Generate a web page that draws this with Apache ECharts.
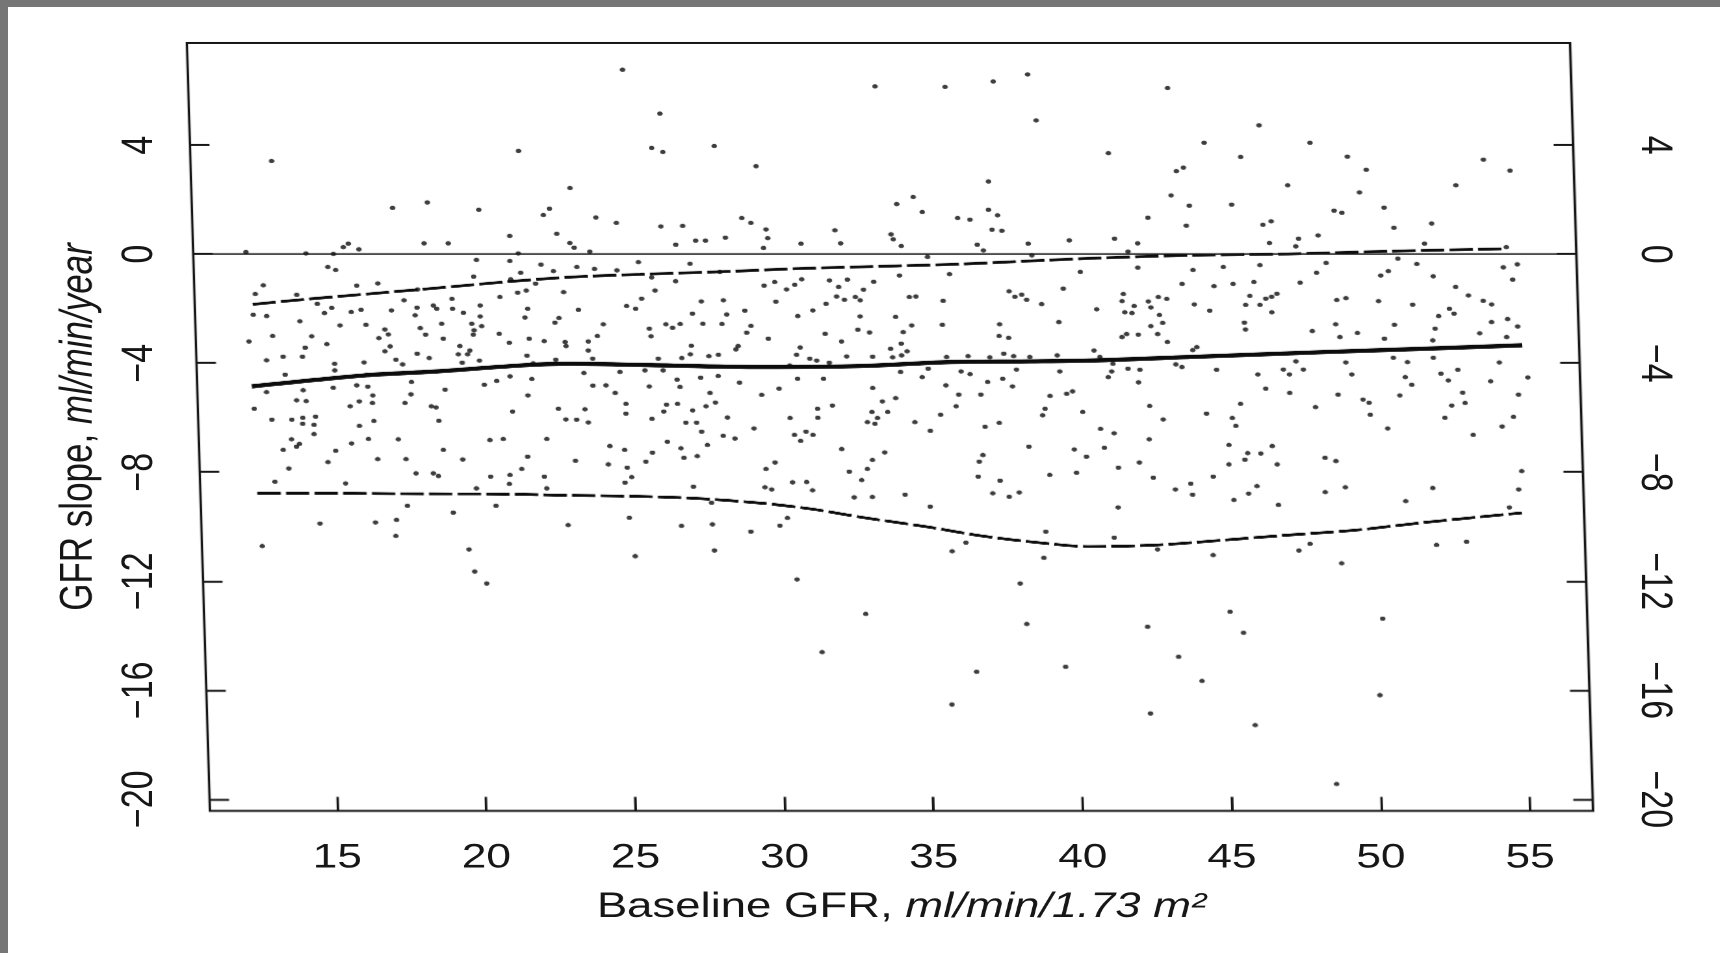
<!DOCTYPE html>
<html>
<head>
<meta charset="utf-8">
<title>GFR slope vs baseline GFR</title>
<script src="https://cdn.jsdelivr.net/npm/echarts@6.0.0/dist/echarts.min.js"></script>
<style>
  html, body { margin: 0; padding: 0; background: #fff; width: 1720px; height: 953px; overflow: hidden; }
  .layer { position: absolute; left: 0; top: 0; width: 1323px; height: 953px; transform-origin: 0 0; }
  /* the plot frame leans slightly, the tick labels stay upright */
  #plot { transform: matrix(1.3, 0, 0.03, 1, -24.33, 0); }
  #labels { transform: scale(1.3, 1); }
  .edge { position: absolute; background: #767676; }
</style>
</head>
<body>
<div id="plot" class="layer"></div>
<div id="labels" class="layer"></div>
<div class="edge" style="left:0;top:0;width:1720px;height:7px"></div>
<div class="edge" style="left:0;top:0;width:8px;height:953px"></div>
<script>
// Axis ranges and tick values
const X_MIN = 10.73, X_MAX = 57.11;
const Y_MIN = -20.43, Y_MAX = 7.75;
const xTicks = [15, 20, 25, 30, 35, 40, 45, 50, 55];
const yTicks = [-20, -16, -12, -8, -4, 0, 4];

// Individual patients: [baseline GFR, GFR slope]
const patientPoints = [
  [25.31,6.77],[13.45,3.42],[21.74,3.79],[23.43,2.43],[18.63,1.90],[17.46,1.70],[20.35,1.63],[22.72,1.67],[22.51,1.44],[24.27,1.35],[24.95,1.15],[22.94,0.75],[21.36,0.67],[15.77,0.26],[15.94,0.39],[16.29,0.18],[18.48,0.40],[19.29,0.40],[23.37,0.41],[23.51,0.24],[24.03,0.10],[12.50,0.08],[14.51,0.03],[15.43,0.01],[21.63,0.03],
  [15.23,-0.47],[15.49,-0.58],[20.22,-0.21],[21.34,-0.25],[22.38,-0.38],[22.79,-0.62],[23.58,-0.47],[24.17,-0.54],[24.92,-0.59],[21.69,-0.68],[20.11,-0.82],[21.35,-0.92],[13.05,-1.14],[16.18,-1.15],[16.89,-1.07],[12.77,-1.46],[14.16,-1.49],[22.18,-1.08],[21.86,-1.33],[21.57,-1.41],[23.11,-1.39],[20.97,-1.57],[18.22,-1.29],[17.75,-1.69],[14.84,-1.82],[15.32,-1.97],[15.07,-2.16],[16.30,-2.04],[15.97,-2.12],[17.32,-2.06],[18.18,-1.96],[18.11,-2.24],[18.73,-1.88],[18.84,-2.00],[19.36,-1.64],[19.37,-2.00],[19.73,-2.15],[20.30,-1.88],[20.29,-2.28],[12.68,-2.22],[13.13,-2.27],[21.89,-2.00],[21.79,-2.32],[23.59,-2.04],[25.21,-1.90],[25.51,-2.00],
  [14.24,-2.46],[15.58,-2.61],[16.45,-2.59],[18.99,-2.55],[20.00,-2.55],[20.33,-2.64],[22.93,-2.34],[22.79,-2.51],[24.41,-2.57],[17.08,-2.76],[17.19,-2.94],[18.27,-2.71],[18.44,-2.95],[20.07,-2.79],[20.04,-2.95],[20.91,-2.92],[12.51,-3.20],[13.31,-3.00],[14.62,-3.01],[15.12,-3.30],[14.39,-3.43],[16.87,-3.08],[19.03,-3.10],[21.24,-3.25],[21.91,-3.10],[22.41,-3.19],[23.11,-3.22],[23.14,-3.37],[23.89,-3.20],[24.20,-3.00],[17.24,-3.38],[17.06,-3.56],[19.58,-3.37],[19.52,-3.67],[19.91,-3.53],[19.83,-3.67],[18.14,-3.65],[13.08,-3.89],[13.64,-3.76],[14.29,-3.76],[15.36,-4.02],[16.35,-3.97],[17.42,-3.87],[17.64,-4.04],[18.54,-3.81],[20.22,-3.90],[19.64,-3.98],[21.82,-3.72],[22.78,-3.87],[23.88,-3.53],[24.02,-3.83],[13.69,-4.42],[15.36,-4.26],[16.43,-4.42],[22.02,-4.00],[23.71,-4.36],[24.92,-4.32],
  [13.05,-5.06],[14.28,-4.99],[14.05,-5.36],[14.37,-5.39],[15.29,-4.90],[16.08,-4.81],[16.45,-4.86],[16.61,-5.18],[16.59,-5.46],[16.15,-5.40],[15.84,-5.58],[17.92,-4.69],[17.89,-5.14],[17.68,-5.46],[19.04,-4.97],[18.56,-5.58],[18.72,-5.62],[20.36,-4.79],[20.78,-4.65],[21.23,-4.48],[21.96,-4.58],[21.81,-5.18],[24.00,-4.82],[24.44,-4.81],[24.74,-5.09],[25.09,-5.49],[12.62,-5.67],[13.20,-6.07],[13.87,-6.07],[14.24,-6.00],[14.23,-6.22],[14.67,-5.96],[14.61,-6.26],[18.80,-6.11],[21.28,-5.77],[22.82,-5.67],[23.71,-5.69],[23.06,-6.06],[23.42,-6.07],[23.81,-6.17],[25.08,-5.85],[16.62,-6.12],
  [26.52,5.16],[26.21,3.90],[26.58,3.75],[28.31,3.97],[29.69,3.23],[33.76,6.16],[36.11,6.14],[37.73,6.34],[38.89,6.60],[39.13,4.91],[37.47,2.67],[34.93,2.10],[34.37,1.84],[35.22,1.55],[37.44,1.63],[37.74,1.43],[36.40,1.33],[36.81,1.27],[37.54,0.90],[37.87,0.86],[26.44,1.02],[27.17,1.04],[29.16,1.33],[29.46,1.15],[29.96,0.91],[30.01,0.59],[29.86,0.23],[28.59,0.61],[27.59,0.50],[27.92,0.50],[26.92,0.35],[31.12,0.39],[32.27,0.88],[32.45,0.40],[34.15,0.73],[34.22,0.55],[34.48,0.30],[37.03,0.35],[37.23,0.14],[38.74,0.39],[40.12,0.51],[35.35,-0.10],[38.85,-0.04],
  [25.65,-0.29],[27.38,-0.35],[26.08,-0.85],[26.88,-0.99],[26.18,-1.33],[25.72,-1.63],[27.72,-1.73],[28.46,-1.69],[28.37,-0.65],[29.84,-1.15],[30.20,-1.02],[30.59,-1.29],[30.87,-1.12],[31.11,-0.92],[32.04,-0.96],[32.34,-1.20],[32.64,-0.93],[33.17,-1.30],[33.52,-1.01],[34.39,-0.78],[36.07,-0.73],[40.46,-0.65],[39.87,-1.26],[38.05,-1.36],[38.24,-1.56],[38.47,-1.48],[38.63,-1.67],[39.13,-1.83],[40.97,-2.02],[35.83,-1.71],[34.70,-1.57],[34.92,-1.55],[32.26,-1.55],[32.52,-1.67],[32.89,-1.57],[33.05,-1.69],[31.90,-1.82],[30.22,-1.74],[29.17,-2.07],[27.41,-2.18],[28.56,-2.21],[30.94,-2.27],[31.45,-2.06],[33.03,-2.28],[34.22,-2.30],[26.51,-2.57],[26.73,-2.70],[26.99,-2.56],[25.95,-2.73],[26.00,-3.01],[27.75,-2.55],[28.39,-2.56],[29.21,-2.88],[29.36,-2.63],[29.93,-3.10],[31.84,-2.92],[32.38,-3.20],[32.94,-2.77],[33.33,-2.87],[34.75,-2.61],[34.46,-2.86],[35.78,-2.59],[37.70,-2.57],[37.67,-3.00],[37.99,-3.07],[39.69,-2.49],
  [27.34,-3.36],[28.91,-3.37],[28.83,-3.49],[30.99,-3.42],[34.02,-3.47],[34.38,-3.28],[34.57,-3.56],[27.30,-3.67],[27.01,-3.81],[27.92,-3.74],[28.24,-3.69],[30.86,-3.69],[31.30,-3.83],[31.53,-3.90],[31.95,-3.98],[32.54,-3.75],[33.41,-3.76],[34.08,-3.78],[34.38,-3.71],[35.89,-3.77],[36.61,-3.74],[37.34,-3.78],[37.81,-3.65],[38.14,-3.74],[38.68,-3.77],[39.60,-3.71],[40.84,-3.53],[26.22,-3.83],[25.76,-4.26],[26.37,-4.26],[30.62,-4.08],[35.26,-4.20],[36.36,-4.30],[36.66,-4.40],[38.22,-4.23],
  [25.89,-4.85],[26.83,-4.60],[26.92,-4.87],[27.62,-4.53],[28.21,-4.47],[28.92,-4.71],[30.87,-4.57],[31.74,-4.57],[34.33,-4.32],[35.05,-4.51],[35.84,-4.81],[37.24,-4.69],[37.75,-4.57],[38.07,-4.85],[39.67,-4.30],[30.24,-4.93],[33.38,-4.91],[29.65,-5.16],[27.92,-5.09],[28.09,-5.44],[27.77,-5.58],[26.82,-5.49],[26.45,-5.52],[26.35,-5.77],[27.32,-5.73],[33.69,-5.40],[34.14,-5.28],[36.26,-5.15],[37.00,-5.15],[39.32,-5.20],[39.88,-5.12],[40.08,-5.03],[32.01,-5.55],[31.51,-5.67],[36.16,-5.58],[39.14,-5.67],[40.40,-5.79],[33.33,-5.79],[33.86,-5.79],[35.63,-5.89],[25.95,-6.04],[28.48,-5.99],[30.58,-6.01],[27.08,-6.18],[27.44,-6.18],[31.51,-6.00],[33.51,-6.01],[33.17,-6.16],[33.42,-6.22],[34.76,-6.16],[37.59,-6.19],[39.05,-5.91],
  [43.57,6.10],[46.60,4.73],[44.74,4.09],[48.29,4.09],[41.52,3.71],[45.95,3.57],[49.53,3.58],[54.09,3.47],[54.97,3.07],[43.78,3.05],[44.02,3.18],[50.15,3.10],[47.50,2.53],[53.14,2.53],[49.90,2.27],[43.58,2.16],[44.18,1.78],[45.60,1.82],[50.71,1.71],[49.03,1.60],[49.29,1.52],[42.78,1.34],[44.06,1.05],[46.63,1.08],[46.91,1.21],[51.02,0.97],[52.29,1.13],[41.64,0.57],[42.41,0.40],[46.83,0.41],[47.81,0.57],[48.47,0.69],[52.03,0.39],[47.71,0.29],[42.08,0.10],[54.77,0.26],
  [42.39,-0.49],[44.24,-0.58],[45.26,-0.47],[46.49,-0.40],[48.71,-0.32],[48.38,-0.68],[51.12,-0.16],[51.75,-0.36],[54.65,-0.48],[55.12,-0.37],[43.86,-1.09],[44.93,-1.17],[45.57,-1.09],[46.27,-1.02],[47.82,-1.04],[50.79,-0.62],[50.53,-0.78],[52.29,-0.81],[54.95,-0.93],[41.88,-1.46],[41.83,-1.72],[42.71,-1.73],[42.79,-1.95],[43.05,-1.57],[43.33,-1.64],[41.91,-2.13],[42.15,-2.16],[42.23,-1.90],[43.07,-2.23],[43.17,-2.52],[42.77,-2.64],[44.25,-1.84],[44.76,-2.07],[45.97,-1.86],[46.12,-1.53],[46.45,-1.86],[46.65,-1.63],[46.85,-1.56],[47.03,-1.45],[46.84,-2.13],[49.03,-1.68],[49.34,-1.61],[50.43,-1.72],[51.57,-1.85],[53.03,-1.20],[53.45,-1.51],[53.94,-1.71],[54.22,-1.84],[52.80,-2.00],[52.95,-2.18],[52.43,-2.27],[54.20,-2.49],[54.74,-2.38],[55.07,-2.65],[45.91,-2.51],[45.94,-2.76],[48.97,-2.57],[50.94,-2.59],[52.30,-2.73],[41.79,-3.04],[41.95,-2.93],[42.34,-2.95],[42.99,-2.93],[43.31,-3.22],[44.29,-3.41],[44.15,-3.52],[48.18,-2.82],[49.10,-3.04],[49.69,-2.89],[50.59,-3.10],[52.21,-3.16],[53.79,-2.90],[54.69,-3.04],
  [41.03,-3.77],[41.46,-4.02],[41.96,-4.20],[42.36,-4.24],[41.41,-4.30],[41.29,-4.51],[42.30,-4.70],[43.57,-4.04],[43.77,-4.14],[44.93,-4.24],[46.31,-4.41],[47.17,-4.23],[47.37,-4.41],[47.60,-3.93],[47.84,-4.23],[49.27,-3.97],[49.46,-4.41],[50.87,-3.80],[51.34,-3.96],[51.25,-4.51],[51.46,-4.79],[52.21,-3.80],[52.45,-4.38],[53.02,-4.24],[52.69,-4.63],[54.42,-3.97],[54.11,-4.66],[55.36,-4.52],[46.56,-4.93],[47.36,-5.09],[48.98,-5.15],[51.05,-5.18],[53.16,-5.08],[53.23,-5.46],[52.78,-5.55],[49.81,-5.33],[50.01,-5.45],[50.04,-5.89],[55.03,-5.15],[42.65,-5.57],[43.09,-6.06],[44.55,-5.85],[45.41,-6.01],[45.70,-5.49],[48.21,-5.61],[52.54,-6.00],[54.84,-5.97],
  [16.13,-6.30],[14.60,-6.60],[13.84,-6.79],[14.10,-6.96],[14.00,-7.06],[13.55,-7.18],[15.31,-7.21],[15.85,-6.94],[16.42,-6.78],[17.42,-6.79],[15.04,-7.63],[13.72,-7.86],[16.71,-7.52],[17.66,-7.52],[18.92,-7.18],[19.56,-7.53],[17.98,-8.04],[18.56,-8.04],[18.73,-8.14],[20.49,-6.82],[20.94,-6.78],[22.40,-6.78],[21.74,-7.43],[21.53,-7.88],[21.13,-8.10],[21.10,-8.43],[20.48,-8.16],[22.28,-8.16],[22.35,-8.59],[23.34,-7.58],[24.51,-7.04],[25.00,-7.18],[24.44,-7.71],[25.07,-7.83],[25.21,-8.18],[24.98,-8.38],[13.24,-8.35],[15.61,-8.41],[19.99,-8.59],[17.66,-9.23],[20.63,-9.23],[19.19,-9.48],[14.71,-9.88],[16.57,-9.84],[17.28,-9.75],[17.24,-10.34],[23.03,-9.94],[25.09,-9.67],[25.25,-11.08],[12.75,-10.71],[19.68,-10.83],[19.85,-11.64],[20.24,-12.08],
  [27.60,-6.51],[27.78,-7.00],[28.32,-6.66],[28.71,-6.76],[29.36,-6.39],[30.71,-6.63],[31.10,-6.51],[31.33,-6.63],[30.91,-6.85],[26.44,-6.88],[26.89,-7.12],[26.98,-7.47],[27.43,-7.41],[25.93,-7.28],[25.70,-7.61],[27.27,-8.53],[29.72,-7.88],[30.03,-7.64],[29.67,-8.55],[29.89,-8.63],[30.60,-8.37],[31.07,-8.36],[31.26,-8.66],[32.28,-7.15],[32.51,-7.98],[32.92,-8.29],[33.12,-7.88],[33.30,-7.55],[33.72,-7.27],[32.65,-8.92],[33.26,-8.91],[34.36,-8.82],[35.27,-6.48],[35.19,-9.26],[37.01,-7.37],[36.88,-7.61],[36.83,-8.16],[37.56,-8.31],[37.30,-8.77],[37.85,-8.90],[38.19,-8.74],[38.56,-7.06],[39.23,-8.10],[40.08,-7.16],[40.48,-7.43],[40.13,-8.02],[37.11,-6.33],[26.83,-9.97],[27.87,-9.91],[27.86,-9.12],[29.15,-10.18],[30.13,-9.96],[30.39,-9.68],[27.91,-10.87],[35.88,-10.90],[36.35,-10.58],[39.04,-10.18],[38.95,-11.14],[30.65,-11.93],[38.13,-12.08],[32.92,-13.20],[38.31,-13.57],[31.42,-14.60],[36.58,-15.32],[39.57,-15.14],[35.72,-16.52],
  [40.98,-6.41],[41.43,-6.57],[41.09,-7.10],[42.60,-6.79],[45.52,-6.30],[41.54,-7.83],[42.25,-7.64],[42.70,-8.20],[41.49,-9.29],[43.43,-8.63],[43.95,-8.42],[44.00,-8.82],[44.71,-8.16],[45.27,-7.00],[45.25,-7.71],[45.79,-7.54],[45.89,-7.30],[46.33,-7.31],[46.72,-7.04],[46.87,-7.71],[45.38,-9.02],[45.88,-8.78],[46.17,-8.51],[46.87,-9.20],[48.48,-7.47],[48.84,-7.59],[48.45,-8.73],[49.13,-8.55],[50.61,-6.39],[53.47,-6.63],[54.45,-6.32],[55.06,-7.96],[54.94,-8.63],[54.61,-9.29],[52.06,-8.58],[51.14,-9.06],[41.33,-10.40],[42.77,-10.83],[44.63,-11.04],[47.51,-10.87],[47.89,-10.63],[48.93,-11.34],[52.13,-10.67],[53.14,-10.55],[45.14,-13.12],[45.57,-13.89],[42.36,-13.67],[50.25,-13.37],[43.37,-14.77],[44.13,-15.66],[42.37,-16.85],[45.87,-17.28],[50.08,-16.18],[48.54,-19.44]
];

// Smoothed median slope (solid) and the upper / lower percentile curves (dashed)
const medianSlope = [[12.56,-4.85],[16.42,-4.44],[18.78,-4.30],[21.58,-4.08],[23.24,-4.02],[25.60,-4.06],[29.73,-4.14],[33.09,-4.10],[35.89,-3.96],[38.69,-3.93],[41.04,-3.89],[44.05,-3.77],[48.53,-3.59],[51.88,-3.47],[55.20,-3.34]];
const upperBand = [[12.67,-1.84],[14.38,-1.66],[16.62,-1.45],[18.86,-1.24],[21.10,-1.02],[23.34,-0.84],[25.69,-0.74],[28.71,-0.63],[30.93,-0.53],[34.29,-0.43],[36.50,-0.36],[38.72,-0.25],[41.07,-0.14],[44.13,-0.04],[47.47,0.01],[50.83,0.11],[54.77,0.20]];
const lowerBand = [[12.64,-8.77],[14.18,-8.77],[17.53,-8.79],[20.88,-8.80],[23.12,-8.85],[25.24,-8.88],[27.37,-8.96],[29.59,-9.14],[31.27,-9.36],[32.93,-9.66],[35.16,-10.02],[36.85,-10.33],[38.50,-10.55],[40.51,-10.73],[42.75,-10.67],[44.99,-10.49],[47.23,-10.30],[49.47,-10.12],[51.68,-9.85],[55.02,-9.49]];

const FONT = '"Liberation Sans", Arial, Helvetica, sans-serif';
const INK = '#161616';
const minus = v => String(v).replace('-', '\u2212');

const grid = { left: 161.5, right: 97.6, top: 43, bottom: 142, containLabel: false, outerBoundsMode: 'none' };

function buildAxes(isPlot) {
  const tickStyle = { color: INK, width: 2 };
  const labelBase = { fontSize: 34, fontFamily: FONT, color: INK };
  const xAxis = {
    type: 'value', min: X_MIN, max: X_MAX,
    splitLine: { show: false },
    axisLine: { show: false, onZero: false },
    axisTick: { show: isPlot, inside: true, length: 14, customValues: xTicks, lineStyle: tickStyle },
    axisLabel: Object.assign({ show: !isPlot, customValues: xTicks, margin: 30 }, labelBase),
    name: isPlot ? '' : '{r|Baseline GFR, }{i|ml/min/1.73 m\u00B2}',
    nameLocation: 'middle', nameGap: 79,
    nameTextStyle: { rich: {
      r: { fontSize: 35, fontFamily: FONT, color: INK },
      i: { fontSize: 35, fontFamily: FONT, color: INK, fontStyle: 'italic' }
    } }
  };
  const yCommon = {
    type: 'value', min: Y_MIN, max: Y_MAX,
    splitLine: { show: false },
    axisLine: { show: false, onZero: false },
    axisTick: { show: isPlot, inside: true, length: 15, customValues: yTicks, lineStyle: tickStyle }
  };
  const yLeft = Object.assign({}, yCommon, {
    position: 'left',
    axisLabel: Object.assign({ show: !isPlot, customValues: yTicks, rotate: 90, margin: 37, formatter: minus }, labelBase),
    name: isPlot ? '' : '{r|GFR slope, }{i|ml/min/year}',
    nameLocation: 'middle', nameRotate: 90, nameGap: 83,
    nameTextStyle: { rich: {
      r: { fontSize: 35, fontFamily: FONT, color: INK },
      i: { fontSize: 35, fontFamily: FONT, color: INK, fontStyle: 'italic' }
    } }
  });
  const yRight = Object.assign({}, yCommon, {
    position: 'right',
    axisLabel: Object.assign({ show: !isPlot, customValues: yTicks, rotate: -90, margin: 30, formatter: minus }, labelBase)
  });
  return { xAxis: xAxis, yAxis: [yLeft, yRight] };
}

// Frame, ticks, points and curves
const plotAxes = buildAxes(true);
const plotChart = echarts.init(document.getElementById('plot'), null, { renderer: 'canvas', devicePixelRatio: 2 });
plotChart.setOption({
  animation: false,
  backgroundColor: 'transparent',
  grid: Object.assign({ show: true, borderColor: INK, borderWidth: 2, backgroundColor: 'transparent' }, grid),
  xAxis: plotAxes.xAxis,
  yAxis: plotAxes.yAxis,
  series: [
    {
      type: 'scatter', data: patientPoints, symbol: 'circle', symbolSize: 4.3,
      itemStyle: { color: '#0c0c0c' }, silent: true,
      markLine: {
        silent: true, symbol: 'none', label: { show: false },
        lineStyle: { color: INK, width: 1.5, type: 'solid' },
        data: [{ yAxis: 0 }]
      }
    },
    { type: 'line', data: medianSlope, symbol: 'none', smooth: 0.3, silent: true,
      lineStyle: { color: '#0c0c0c', width: 4.2 } },
    { type: 'line', data: upperBand, symbol: 'none', smooth: 0.3, silent: true,
      lineStyle: { color: '#0c0c0c', width: 2.8, type: [18, 4] } },
    { type: 'line', data: lowerBand, symbol: 'none', smooth: 0.3, silent: true,
      lineStyle: { color: '#0c0c0c', width: 2.8, type: [18, 4] } }
  ]
});

// Upright tick labels and axis titles
const labelAxes = buildAxes(false);
const labelChart = echarts.init(document.getElementById('labels'), null, { renderer: 'canvas', devicePixelRatio: 2 });
labelChart.setOption({
  animation: false,
  backgroundColor: 'transparent',
  grid: grid,
  xAxis: labelAxes.xAxis,
  yAxis: labelAxes.yAxis,
  series: []
});
</script>
</body>
</html>
